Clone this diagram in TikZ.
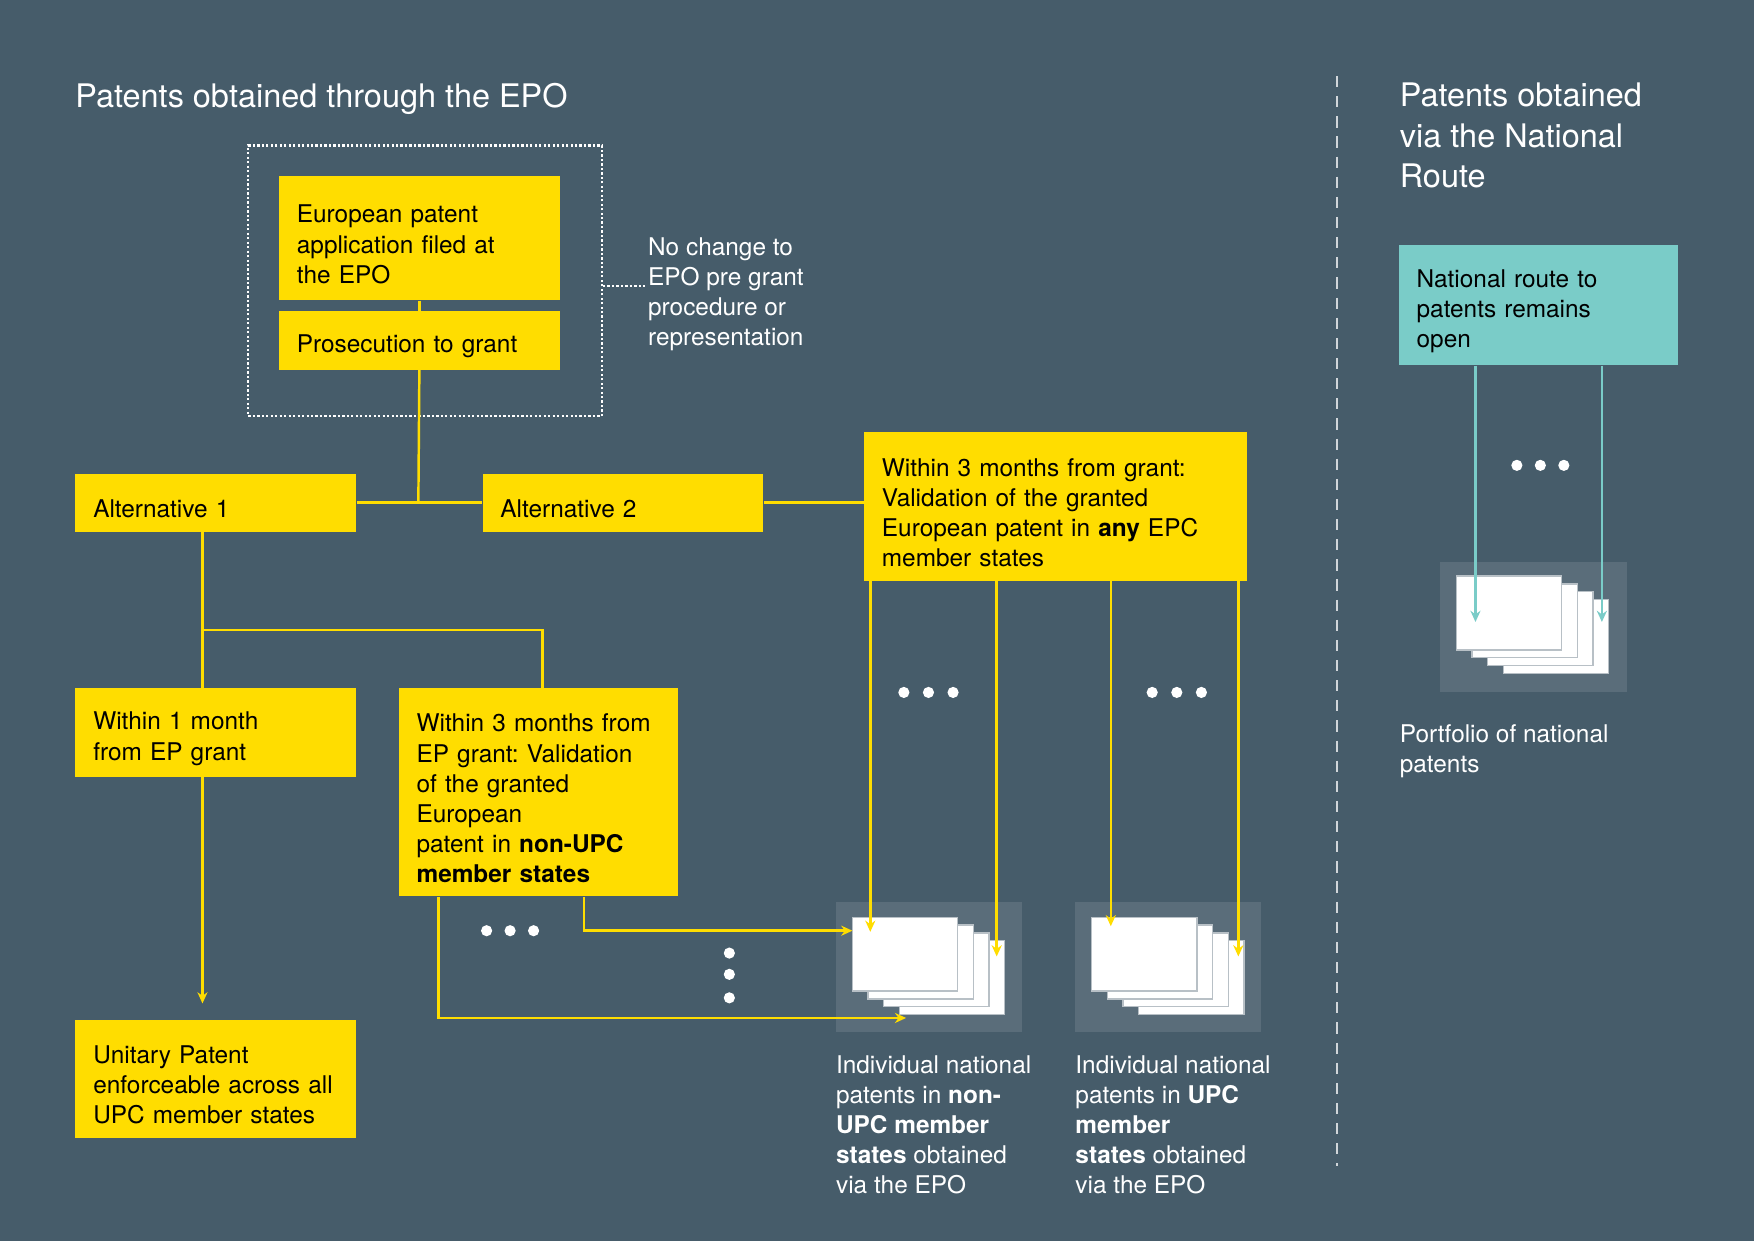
\documentclass[tikz,border=0pt]{standalone}
\usepackage{fontspec}
\setmainfont{TeX Gyre Heros}
\usetikzlibrary{arrows.meta}
\definecolor{bg}{HTML}{465C6A}
\definecolor{yel}{HTML}{FFDD00}
\definecolor{teal}{HTML}{7ACCC8}
\definecolor{panel}{HTML}{5A6D7A}
\definecolor{sheetline}{HTML}{B8C0C6}
\frenchspacing
\begin{document}
\begin{tikzpicture}[x=0.5pt,y=-0.5pt,
  bx/.style n args={3}{fill=yel,anchor=north west,minimum width=#1pt,minimum height=#2pt,text width=#3pt,inner xsep=8pt,inner ysep=0pt,align=left,font=\fontsize{10.9}{13.5}\selectfont,text=black,execute at begin node={\rule{0pt}{13.5pt}}},
  tx/.style={anchor=north west,align=left,text=white,font=\fontsize{10.9}{13.5}\selectfont,inner sep=0pt},
  ttl/.style={anchor=north west,align=left,text=white,font=\fontsize{14.5}{18}\selectfont,inner sep=0pt},
  yl/.style={draw=yel,line width=1.1pt},
  ya/.style={yl,-{Stealth[length=5pt,width=4.5pt]}},
  ta/.style={draw=teal,line width=1.1pt,-{Stealth[length=5pt,width=4.5pt]}},
  pnl/.style={fill=panel,anchor=north west,minimum width=83pt,minimum height=58pt,inner sep=0pt},
  dot/.style={circle,fill=white,inner sep=0pt,minimum size=5pt}]
\fill[bg] (0,0) rectangle (1568,1109);
\useasboundingbox (0,0) rectangle (1568,1109);
% titles
\node[ttl] (t1) at (67,74) {Patents obtained through the EPO};
\node[ttl] (t2) at (1251,74) {Patents obtained\\via the National\\Route};
% divider
\draw[draw=white!75!bg,dashed,line width=1pt,dash pattern=on 5pt off 4pt] (1195,68) -- (1195,1042);
% dotted frame
\node[draw=white,densely dotted,line width=1pt,anchor=north west,minimum width=158pt,minimum height=121pt,inner sep=0pt] (frame) at (221,129) {};
\node[tx] (nc) at (579,212) {No change to\\EPO pre grant\\procedure or\\representation};
\draw[white,densely dotted,line width=1pt] (frame.east |- 0,256) -- (nc.west |- 0,256);
% boxes
\node[bx={125.5}{55.5}{109.5}] (b1) at (249,157) {European patent\\application filed at\\the EPO};
\node[bx={125.5}{26}{109.5}] (b2) at (249,278) {Prosecution to grant};
\node[bx={125.5}{26}{109.5}] (a1) at (67,423) {Alternative 1};
\node[bx={125.5}{26}{109.5}] (a2) at (431,423) {Alternative 2};
\node[bx={171}{66.5}{155}] (v3) at (772,386) {Within 3 months from grant:\\Validation of the granted\\European patent in \textbf{any} EPC\\member states};
\node[bx={125.5}{39.5}{109.5}] (w1) at (67,615) {Within 1 month\\from EP grant};
\node[bx={125}{93}{109}] (w3) at (356,615) {Within 3 months from\\EP grant: Validation\\of the granted\\European\\patent in \textbf{non-UPC}\\\textbf{member states}};
\node[bx={125.5}{53}{109.5}] (up) at (67,911) {Unitary Patent\\enforceable across all\\UPC member states};
\node[bx={125}{53.5}{109},fill=teal] (nr) at (1250,219) {National route to\\patents remains\\open};
% panels with sheets
\node[pnl] (p1) at (747,806) {};
\node[pnl] (p2) at (961,806) {};
\node[pnl,minimum width=83.5pt] (p3) at (1287,502) {};
\foreach \x/\y in {762/820,976/820,1302/515}{
  \foreach \i in {3,2,1,0}{
    \fill[white,draw=sheetline,line width=0.6pt] (\x+14*\i,\y+7*\i) rectangle ++(94,66);
  }
}
% labels
\node[tx] (l1) at (747,943) {Individual national\\patents in \textbf{non-}\\\textbf{UPC member}\\\textbf{states} obtained\\via the EPO};
\node[tx] (l2) at (961,943) {Individual national\\patents in \textbf{UPC}\\\textbf{member}\\\textbf{states} obtained\\via the EPO};
\node[tx] (l3) at (1251,647) {Portfolio of national\\patents};
% connectors
\coordinate (j0) at (374,448);
\draw[yl] (b1.south) -- (b2.north);
\draw[yl] (b2.south) -- (j0);
\draw[yl] (a1.east) -- (a2.west);
\draw[yl] (a2.east) -- (v3.west |- a2.east);
\coordinate (j1) at (181,563);
\coordinate (j2) at (485,563);
\draw[yl] (a1.south -| j1) -- (w1.north -| j1);
\draw[yl] (j1) -- (j2) -- (w3.north -| j2);
\coordinate (e1) at (181,897);
\draw[ya] (w1.south -| e1) -- (e1);
\coordinate (c1) at (522,832); \coordinate (e2) at (762,832);
\draw[ya] (w3.south -| c1) -- (c1) -- (e2);
\coordinate (c2) at (392,910); \coordinate (e3) at (810,910);
\draw[ya] (w3.south -| c2) -- (c2) -- (e3);
\foreach \x/\y in {778/833,891/855,993/828,1107/855}{
  \coordinate (v\x) at (\x,\y);
  \draw[ya] (v3.south -| v\x) -- (v\x);
}
\foreach \x in {1319,1432}{
  \coordinate (n\x) at (\x,556);
  \draw[ta] (nr.south -| n\x) -- (n\x);
}
% dots
\foreach \x/\y [count=\k] in {808/619,830/619,852/619,1030/619,1052/619,1074/619,1356/416,1377/416,1398/416,435/832,456/832,477/832,652/852,652/871,652/892}{
  \node[dot] (d\k) at (\x,\y) {};
}
\end{tikzpicture}
\end{document}
